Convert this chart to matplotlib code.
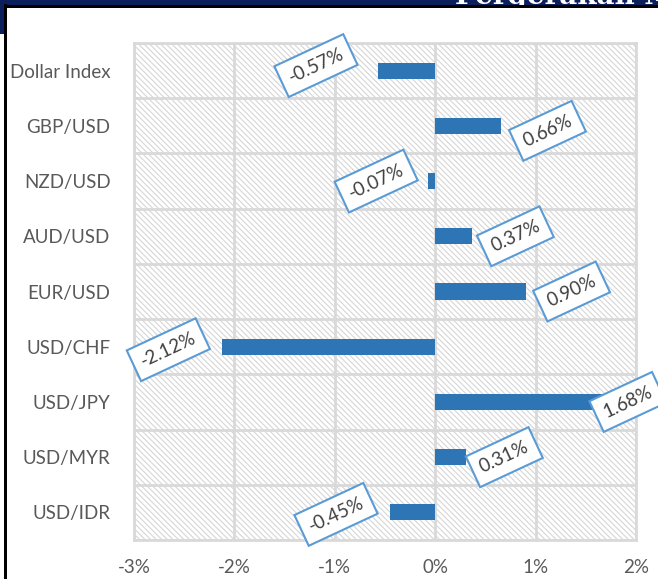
import matplotlib.pyplot as plt
from matplotlib.patches import Rectangle
from matplotlib.ticker import FixedLocator

# Data
currencies = ['Dollar Index', 'GBP/USD', 'NZD/USD', 'AUD/USD', 'EUR/USD',
              'USD/CHF', 'USD/JPY', 'USD/MYR', 'USD/IDR']
changes = [-0.57, 0.66, -0.07, 0.37, 0.90, -2.12, 1.68, 0.31, -0.45]
x_ticks = [-3, -2, -1, 0, 1, 2]
x_labels = ['-3%', '-2%', '-1%', '0%', '1%', '2%']

# label offsets in pixels (x, y)
label_dx = [-62, 46, -52, 43, 46, -54, 24, 38, -54]
label_dy = [5, -5, 0, 0, 0, -3, 0, 0, -2]

plt.rcParams['font.family'] = ['Lato', 'DejaVu Sans']
plt.rcParams['hatch.linewidth'] = 0.8
plt.rcParams['hatch.color'] = '#d6d6d6'

fig = plt.figure(figsize=(6.58, 5.79), dpi=100)
W, H = 658, 579

# frame decorations
fig.patches.append(Rectangle((0, 1 - 5 / H), 1, 5 / H, transform=fig.transFigure,
                             facecolor='#0b1f5c', lw=0, zorder=5))
fig.patches.append(Rectangle((0, 1 - 34 / H), 5 / W, 34 / H, transform=fig.transFigure,
                             facecolor='#0b1f5c', lw=0, zorder=5))
fig.patches.append(Rectangle((4 / W, 0), 3 / W, 1 - 4 / H, transform=fig.transFigure,
                             facecolor='black', lw=0, zorder=7))
fig.patches.append(Rectangle((4 / W, 1 - 8 / H), 1 - 4 / W, 3 / H, transform=fig.transFigure,
                             facecolor='black', lw=0, zorder=7))
fig.text(455 / W, 1 + 3 / H, 'Pergerakan Mata Uang', color='white', fontsize=20,
         family='DejaVu Serif', weight='bold', va='center', ha='left', zorder=6)

ax = fig.add_axes([134 / W, 39 / H, (636 - 134) / W, (540 - 43) / H])
ax.add_patch(Rectangle((0, 0), 1, 1, transform=ax.transAxes, hatch='\\\\\\\\\\\\',
                       fill=False, edgecolor='#d6d6d6', lw=0, zorder=0))

y = list(range(len(currencies)))
ax.barh(y, changes, height=0.29, color='#2e75b6', zorder=3)

ax.set_xlim(-3, 2)
ax.set_ylim(len(currencies) - 0.5, -0.5)
ax.set_xticks(x_ticks)
ax.set_xticklabels(x_labels)
ax.set_yticks(y)
ax.set_yticklabels(currencies)
ax.yaxis.set_minor_locator(FixedLocator([i - 0.5 for i in range(len(currencies) + 1)]))
ax.tick_params(axis='both', which='both', length=0, labelsize=13.5, colors='#595959')
ax.tick_params(axis='y', pad=17)
ax.tick_params(axis='x', pad=14)
ax.grid(axis='x', which='major', color='#d9d9d9', lw=2, zorder=1)
ax.grid(axis='y', which='minor', color='#d9d9d9', lw=2, zorder=1)
ax.grid(axis='y', which='major', visible=False)
for s in ax.spines.values():
    s.set_color('#d9d9d9')
    s.set_linewidth(2)

for i, v in enumerate(changes):
    ax.annotate(f'{v:.2f}%', xy=(v, i), xytext=(label_dx[i], label_dy[i]),
                textcoords='offset pixels', ha='center', va='center', rotation=25,
                fontsize=13.5, color='#404040', zorder=6, annotation_clip=False,
                bbox=dict(boxstyle='square,pad=0.45', facecolor='white',
                          edgecolor='#5b9bd5', lw=1.5))

plt.savefig('out.png')
